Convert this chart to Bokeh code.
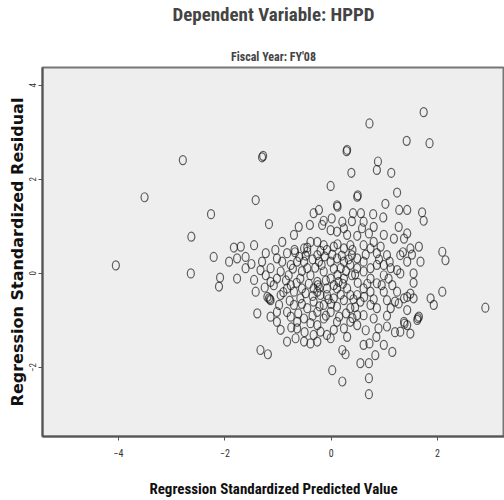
from bokeh.plotting import figure
from bokeh.models import Range1d, Title, FixedTicker
from bokeh.embed import file_html
from bokeh.resources import INLINE

# Regression standardized predicted value (x) and standardized residual (y)
pred = [
    -4.05, -3.51, -2.79, -1.30, -1.28, -1.42, -2.26, -2.63, -1.17, 0.72, 1.74, 1.42, 1.85, 0.29, 0.30,
    0.88, 0.86, 0.38, 1.13, -0.01, 1.24, 0.49, 0.50, 1.02, 0.11, 0.12, 1.28, 1.43, 1.71, 1.74,
    -0.33, -0.23, 0.41, 0.56, 0.79, 0.98, 0.61, -0.14, 0.01, 0.21, 0.39, -0.40, -0.61, -0.01, 0.11,
    0.30, 0.49, 0.71, 0.80, 0.99, 1.27, 1.43, -0.70, -0.17, 0.24, 0.58,
    -2.21, -2.64, -1.83, -1.70, -1.92, -1.77, -1.61, -1.45, -2.09, -2.11, -1.77, -1.61, -1.45, -1.42,
    -1.39, -1.33, -1.19, -1.23, -1.33, -1.14, -1.17, -1.14, -1.02, -1.23, -0.92, -1.02, -0.92, -0.83,
    -0.69, -0.64, -1.08, -0.95, -0.98, -0.76, -0.83, -0.67, -0.51, -0.39, -0.26, -0.01, -0.80, -0.76,
    -0.58, -0.55, -0.45, -0.45, -0.26, -0.23, -0.08, -0.01, 0.11, 0.24, 0.39, 0.49, 0.61, 0.74,
    0.86, 0.99, 1.12, 1.24, 1.30, 1.43, 1.49, 1.65, 1.68, 1.55, 2.09, 2.15, 2.09, 1.87, 1.93, 2.90,
    1.49, 1.43, 1.43, 1.65, 1.62, 1.37, 1.43, 1.49, 1.30, 1.27, 1.05, 1.12, 0.99, 0.86, 0.99, 1.08,
    0.74, 0.61, 0.49, 0.39, 0.24, 0.14, -0.01, -0.14, -0.26, -0.33, -0.20, -0.33, -0.45, -0.51,
    -0.39, -0.26, -0.14, -0.01, 0.11, 0.24, 0.11, 0.24, 0.36, 0.49, 0.55, 0.61, 0.65, 0.49, 0.36,
    0.74, 0.86, 0.89, 1.05, 0.99, 1.15, 0.61, 0.72, 0.83, 0.55, 0.71, 0.71, 0.71, 0.21, 0.02, 0.21,
    0.27, -0.08, -0.20, -0.33, -0.64, -0.64, -0.83, -0.70, -0.58, -0.70, -0.83, -1.14, -1.02, -0.26,
    -0.08, 0.05, -0.14, -0.26, -0.08, 0.11, 0.30, 0.36, 0.61, 0.74, 0.80, 0.49, 1.24, 1.37, 1.55,
    0.24, 0.36, 0.05, -0.14, -0.39, -0.51, 0.61, 0.80, 0.93, 1.05, 1.30, 1.18, 1.37, -0.26, 0.18,
    0.36, 0.86, 0.74, -0.39, -0.51, -0.76, -0.95, -1.02, -1.14,
    -0.25, -0.22, 0.12, 1.38, 1.63, -1.20, -1.15, -0.68,
    -0.60, -0.48, -0.35, -0.12, 0.02, 0.20, 0.33, -0.72, -0.55, -0.30, -0.18, 0.05, 0.28, 0.45,
    -0.85, -0.65, -0.42, -0.10, 0.05, 0.22, 0.50, 0.68, -0.90, -0.48, -0.35, -0.05, 0.18, 0.42,
    0.62, -0.78, -0.55, -0.22, 0.00, 0.28, 0.45, -0.62, -0.35, -0.10, 0.15, 0.40, -0.45, -0.20,
    0.12, 0.40, 0.65, 0.90, 1.10, 0.95, 1.15, 1.20, 0.80, -1.25, -1.30, -1.05, -1.50, -0.95,
    -0.75, 0.30, 0.05, -0.50, 0.85, 1.05, 1.20, 1.55, 1.35, 1.52,
]
resid = [
    0.17, 1.62, 2.41, 2.47, 2.50, 1.56, 1.26, 0.78, 1.05, 3.19, 3.43, 2.82, 2.77, 2.60, 2.63,
    2.38, 2.20, 2.14, 2.14, 1.86, 1.72, 1.63, 1.66, 1.48, 1.45, 1.42, 1.35, 1.35, 1.30, 1.12,
    1.28, 1.35, 1.28, 1.28, 1.26, 1.19, 1.10, 1.12, 1.17, 1.10, 1.11, 1.03, 0.99, 0.92, 0.89,
    0.82, 0.80, 0.85, 0.99, 0.82, 0.99, 0.85, 0.82, 1.03, 0.96, 0.96,
    0.35, 0.00, 0.55, 0.57, 0.25, 0.32, 0.35, 0.60, -0.09, -0.28, -0.11, 0.11, -0.14, -0.39,
    -0.85, -1.63, -1.72, 0.43, 0.07, 0.11, -0.53, -0.92, -1.03, -0.04, 0.67, 0.32, 0.25, 0.43,
    0.50, 0.25, -0.25, -0.46, -0.67, -0.92, -1.45, -1.38, -1.45, -1.49, -1.45, -1.38, -0.04, -0.25,
    -0.11, -0.32, 0.11, 0.46, 0.67, 0.25, 0.50, 0.25, 0.32, 0.25, 0.39, 0.32, 0.25, 0.53,
    0.43, 0.18, 0.11, 0.07, 0.00, 0.25, 0.53, 0.57, 0.25, 0.00, 0.46, 0.28, -0.39, -0.53, -0.67, -0.73,
    -0.43, -0.50, -0.78, -0.92, -0.99, -1.03, -1.10, -1.28, -1.24, -0.64, -0.57, -0.74, -0.39, -0.21, -0.04, -0.11,
    -0.11, 0.04, 0.11, -0.04, -0.11, -0.18, -0.11, 0.04, -0.18, -0.32, -0.46, -0.60, -0.74, -0.96,
    -1.06, -1.10, -0.96, -0.82, -1.03, -1.17, -0.71, -0.57, -0.74, -0.46, -0.60, -0.89, -1.21, -1.10, -1.03,
    -0.67, -0.74, -1.17, -1.13, -1.52, -1.67, -1.52, -1.49, -1.74, -1.91, -1.91, -2.23, -2.57, -2.30, -2.06, -1.63,
    -1.72, -1.31, -1.24, -1.31, -1.17, -1.03, -0.82, -0.67, -0.53, -0.39, -0.32, -0.57, -0.82, -0.39,
    -0.46, -0.53, -0.67, -0.82, -0.32, -0.32, -0.32, -0.46, -0.32, -0.39, -0.96, -0.89, -0.39, -0.53, -0.53,
    0.53, 0.60, 0.57, 0.60, 0.67, 0.53, 0.60, 0.67, 0.57, 0.39, 0.39, 0.74, 0.74, 0.39, 0.11,
    0.18, 0.18, 0.11, -0.04, 0.25, 0.18, 0.04, -0.11, -0.18,
    -0.25, -0.30, -0.03, -1.07, -0.95, -0.50, -0.55, 0.45,
    0.35, 0.38, 0.30, 0.36, 0.40, 0.38, 0.30, 0.10, 0.05, 0.12, 0.18, 0.10, 0.05, -0.02,
    -0.15, -0.20, -0.22, -0.15, -0.25, -0.22, -0.20, -0.22, -0.40, -0.42, -0.48, -0.55, -0.45, -0.55,
    -0.50, -0.58, -0.65, -0.70, -0.65, -0.85, -0.72, -0.85, -0.90, -0.90, -0.92, -0.95, 0.55, 0.48,
    0.62, 0.50, 0.40, 0.30, 0.25, -0.25, -0.25, -0.60, -0.55, -0.30, 0.25, 0.50, 0.20, -1.20,
    -1.15, -1.35, -1.20, -1.25, -1.35, -0.90, -1.25, -0.20, 0.45, 0.40,
]

x_ticks = [-4, -2, 0, 2]
y_ticks = [-2, 0, 2, 4]

NARROW = "Liberation Sans Narrow, Arial Narrow, Roboto Condensed, Liberation Sans, sans-serif"

p = figure(width=504, height=500, x_range=Range1d(-5.43, 3.26), y_range=Range1d(-3.47, 4.38),
           output_backend="svg", toolbar_location=None,
           min_border_left=42, min_border_right=0, min_border_top=0, min_border_bottom=0)

p.background_fill_color = "#eeeeee"
p.border_fill_color = "white"
p.outline_line_color = "#777777"
p.outline_line_width = 2
p.grid.visible = False

p.ellipse(x=pred, y=resid, width=7, height=9, width_units="screen", height_units="screen",
          fill_color=None, line_color="#111111", line_alpha=0.65, line_width=1.2)

for ax in (p.xaxis, p.yaxis):
    ax.axis_line_color = "#555555"
    ax.axis_line_width = 2
    ax.major_tick_line_color = "#555555"
    ax.major_tick_out = 4
    ax.major_tick_in = 0
    ax.minor_tick_line_color = None
    ax.major_label_text_font = NARROW
    ax.major_label_text_font_size = "10px"
    ax.major_label_text_color = "#333333"
    ax.axis_label_text_font_style = "bold"
    ax.axis_label_text_color = "#111111"

p.xaxis.ticker = FixedTicker(ticks=x_ticks)
p.yaxis.ticker = FixedTicker(ticks=y_ticks)
p.yaxis.major_label_orientation = "vertical"
p.yaxis.major_label_standoff = 2
p.yaxis.major_label_text_font_size = "9px"
p.xaxis.major_label_standoff = 8

p.xaxis.axis_label = "Regression Standardized Predicted Value"
p.xaxis.axis_label_text_font = NARROW
p.xaxis.axis_label_text_font_size = "15px"
p.xaxis.axis_label_standoff = 20

p.yaxis.axis_label = "Regression Standardized Residual"
p.yaxis.axis_label_text_font = "DejaVu Sans"
p.yaxis.axis_label_text_font_size = "16px"
p.yaxis.axis_label_standoff = 0

p.add_layout(Title(text="Fiscal Year: FY'08", align="center", offset=-15, text_font=NARROW,
                   text_font_size="12px", text_font_style="bold", standoff=8), "above")
p.add_layout(Title(text=" ", text_font_size="1px", standoff=15), "above")
p.add_layout(Title(text="Dependent Variable: HPPD", align="center", offset=-15, text_font=NARROW,
                   text_font_size="19px", text_font_style="bold", standoff=0), "above")

open("out.html", "w").write(file_html(p, INLINE))
